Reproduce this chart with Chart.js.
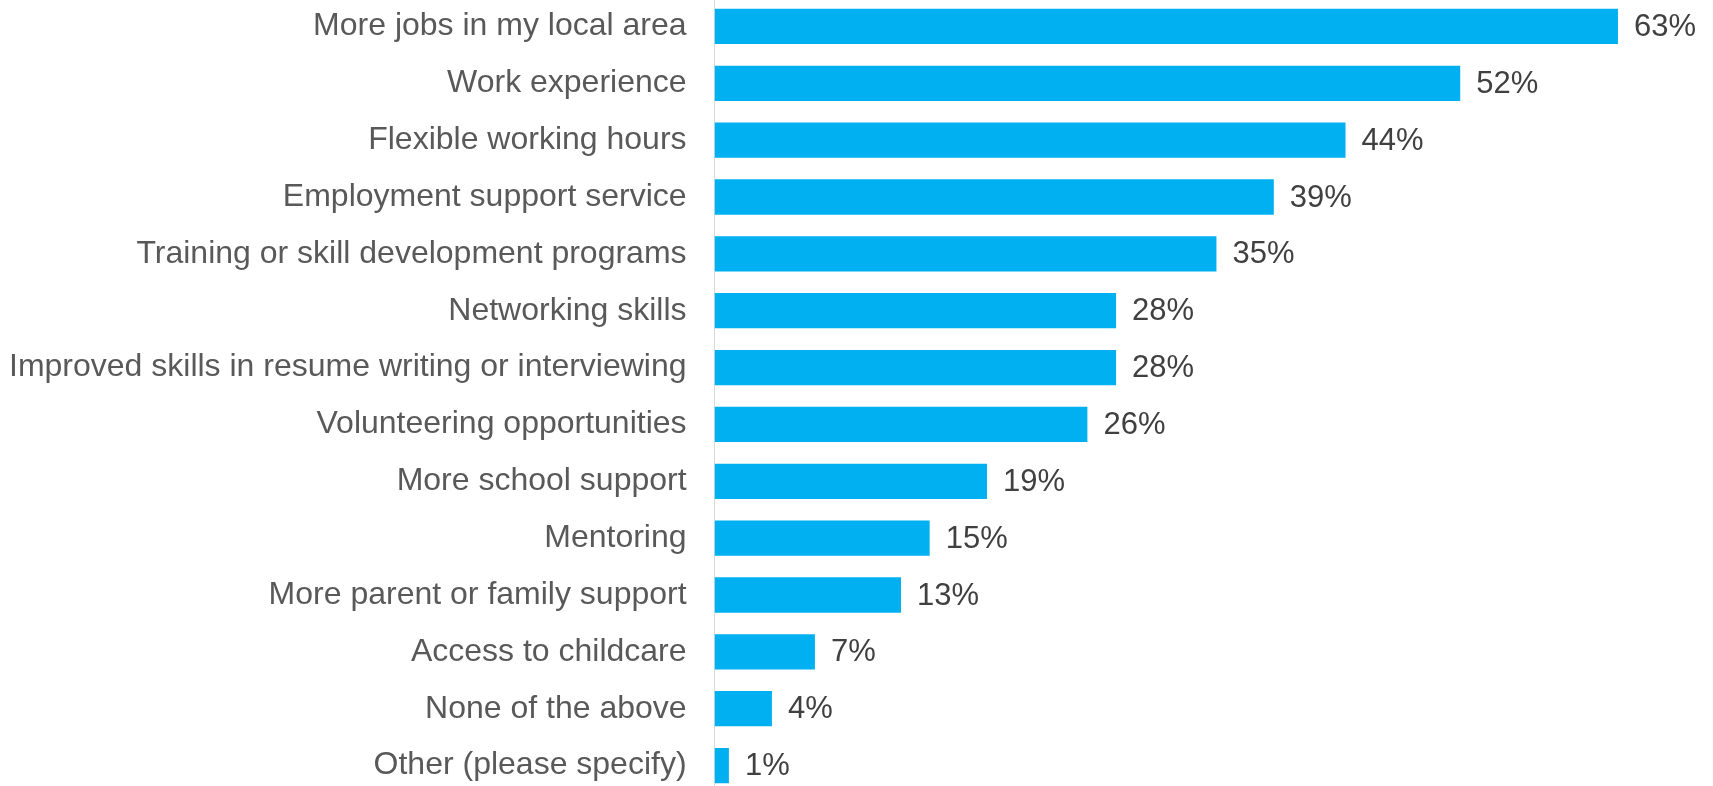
<!DOCTYPE html>
<html><head><meta charset="utf-8">
<script src="https://cdn.jsdelivr.net/npm/chart.js@4/dist/chart.umd.min.js"></script>
<style>
html,body{margin:0;padding:0;background:#fff;overflow:hidden;width:1713px;height:786px;}
#wrap{position:absolute;left:-19px;top:-46px;width:1732px;height:884px;}
</style></head>
<body><div id="wrap"><canvas id="c" width="1732" height="884"></canvas></div>
<script>
const categories = ["More jobs in my local area","Work experience","Flexible working hours","Employment support service","Training or skill development programs","Networking skills","Improved skills in resume writing or interviewing","Volunteering opportunities","More school support","Mentoring","More parent or family support","Access to childcare","None of the above","Other (please specify)"];
const values = [63,52,44,39,35,28,28,26,19,15,13,7,4,1];
const valueLabels = ["63%","52%","44%","39%","35%","28%","28%","26%","19%","15%","13%","7%","4%","1%"];

const labelPlugin = {
  id:'valueLabels',
  afterDatasetsDraw(chart){
    const ctx = chart.ctx;
    const meta = chart.getDatasetMeta(0);
    ctx.save();
    ctx.font = '31px "Liberation Sans", Arial, sans-serif';
    ctx.fillStyle = '#404040';
    ctx.textAlign = 'left';
    ctx.textBaseline = 'middle';
    meta.data.forEach((bar,i)=>{
      ctx.fillText(valueLabels[i], bar.x + 16, bar.y + 1);
    });
    ctx.restore();
  }
};

new Chart(document.getElementById('c'), {
  type:'bar',
  data:{labels:categories, datasets:[{data:values, backgroundColor:'#00B0F0', borderWidth:0, barPercentage:0.62, categoryPercentage:1}]},
  options:{
    indexAxis:'y', responsive:false, animation:false,
    layout:{padding:{left:0,right:9,top:0,bottom:0}},
    plugins:{legend:{display:false}, tooltip:{enabled:false}},
    scales:{
      x:{display:false, min:0, max:69},
      y:{
        grid:{display:false, drawTicks:false},
        border:{display:true, color:'#d9d9d9', width:1},
        ticks:{color:'#595959', padding:28, font:{family:'"Liberation Sans", Arial, sans-serif', size:32, lineHeight:1}}
      }
    }
  },
  plugins:[labelPlugin]
});
</script></body></html>
